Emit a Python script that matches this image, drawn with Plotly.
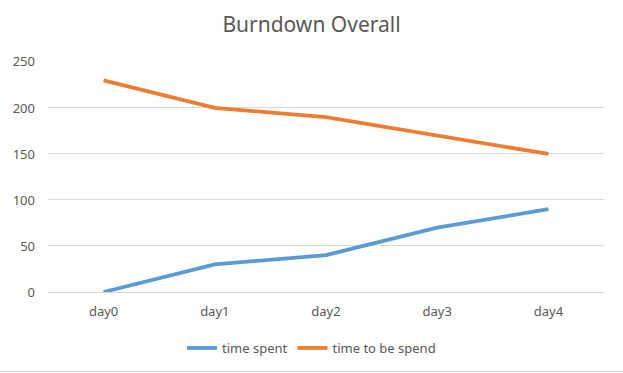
import plotly.graph_objects as go

categories = ["day0", "day1", "day2", "day3", "day4"]
time_spent = [0, 30, 40, 70, 90]
time_to_be_spend = [230, 200, 190, 170, 150]
y_ticks = [0, 50, 100, 150, 200, 250]

W, H = 623, 373
FONT = "Noto Sans"
TXT = "#595959"
GRID = "#D9D9D9"

fig = go.Figure()
fig.add_trace(go.Scatter(x=categories, y=time_spent, mode="lines", name="time spent",
                         line=dict(color="#5B9BD5", width=3.75)))
fig.add_trace(go.Scatter(x=categories, y=time_to_be_spend, mode="lines", name="time to be spend",
                         line=dict(color="#ED7D31", width=3.75)))

fig.update_layout(
    width=W, height=H, autosize=False,
    margin=dict(l=0, r=0, t=0, b=0, autoexpand=False),
    paper_bgcolor="white", plot_bgcolor="white",
    font=dict(family=FONT, color=TXT, size=13),
    title=dict(text="Burndown Overall", x=0.5, xanchor="center", y=1 - 25 / H, yanchor="middle",
               font=dict(family=FONT, size=21, color=TXT)),
    showlegend=True,
    legend=dict(orientation="h", x=0.5, xanchor="center", y=1 - 348 / H, yanchor="middle",
                font=dict(family=FONT, size=13, color=TXT), itemwidth=30, tracegroupgap=0),
    xaxis=dict(domain=[48 / W, 604 / W], type="category", range=[-0.5, 4.5], automargin=False,
               showgrid=False, showline=False, ticks="", ticklabelstandoff=10,
               tickfont=dict(family=FONT, size=13, color=TXT)),
    yaxis=dict(domain=[1 - 292 / H, 1 - 61 / H], range=[0, 251], tickvals=y_ticks, automargin=False,
               showgrid=True, gridcolor=GRID, gridwidth=1, zeroline=True, zerolinecolor=GRID,
               zerolinewidth=1, showline=False, ticks="", ticklabelstandoff=12,
               tickfont=dict(family=FONT, size=13, color=TXT)),
    shapes=[dict(type="line", xref="paper", yref="paper", x0=0, x1=1,
                 y0=1 - 371.5 / H, y1=1 - 371.5 / H, line=dict(color=GRID, width=1))],
)

fig.write_html("out.html", config={"displayModeBar": False},
               post_script="document.body.style.margin='0';document.body.style.overflow='hidden';")
